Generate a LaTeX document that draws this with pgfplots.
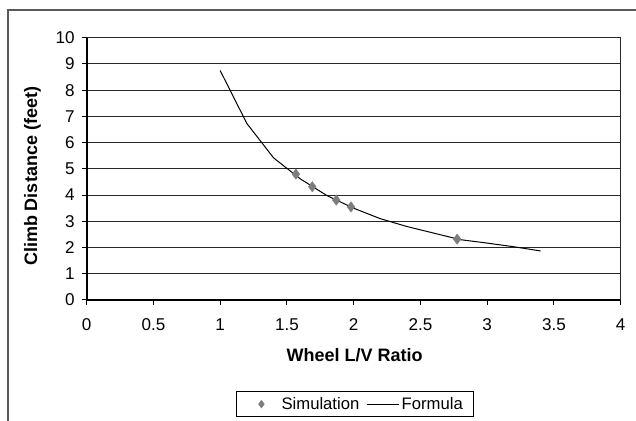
\documentclass[border=0pt]{standalone}
\usepackage{fontspec}
\setmainfont{Liberation Sans}
\usepackage{pgfplots}
\pgfplotsset{compat=1.18}

\definecolor{gridgray}{RGB}{40,40,40}
\definecolor{markgray}{RGB}{125,125,125}
\definecolor{framegray}{RGB}{90,90,90}

\pgfplotsset{
    simlegend/.style={legend image code/.code={%
        \draw[##1, mark size=2.7pt] plot coordinates {(0.45cm,0cm)};
        \path (0cm,0cm) (0.9cm,0cm);}},
    linelegend/.style={legend image code/.code={%
        \draw[##1] (0pt,0pt) -- (24pt,0pt);}},
}

\begin{document}
\begin{tikzpicture}
% page = 636 x 421 px, 1 px = 0.75pt
\useasboundingbox (0,0) rectangle (477pt,315.75pt);
\draw[framegray, line width=1pt] (6pt,0) -- (6pt,308.25pt) -- (477pt,308.25pt);

\begin{axis}[
    at={(65pt,90.75pt)}, anchor=south west,
    scale only axis,
    width=400.5pt, height=196.7pt,
    xmin=0, xmax=4, ymin=0, ymax=10,
    xtick={0,0.5,1,1.5,2,2.5,3,3.5,4},
    ytick={0,1,2,3,4,5,6,7,8,9,10},
    axis lines=left,
    axis line style={-, black, line width=1.5pt},
    tick align=outside,
    major tick length=3.75pt,
    tick style={black, line width=0.75pt},
    ymajorgrids,
    grid style={gridgray, line width=0.75pt},
    /pgf/number format/assume math mode=true,
    ticklabel style={font=\fontsize{12.8}{14}\selectfont},
    xticklabel style={yshift=-6.5pt},
    yticklabel style={xshift=-1.75pt},
    xlabel={Wheel L/V Ratio},
    ylabel={Climb Distance (feet)},
    label style={font=\bfseries\fontsize{13.5}{15}\selectfont},
    xlabel style={at={(axis description cs:0.502,-0.235)}, anchor=base},
    ylabel style={at={(axis description cs:-0.093,0.471)}, anchor=base},
    legend columns=2,
    legend style={at={(axis description cs:0.502,-0.397)}, anchor=center,
        draw=black, line width=0.6pt, font=\fontsize{12.5}{14}\selectfont,
        inner xsep=6pt, inner ysep=2pt,
        /tikz/every even column/.append style={column sep=3pt}},
    legend cell align=left,
    clip=false,
]
\addplot[only marks, mark=diamond*, mark size=3.8pt, color=markgray, simlegend]
coordinates {(1.567,4.80) (1.69,4.32) (1.87,3.81) (1.98,3.55) (2.775,2.32)};
\addlegendentry{Simulation}
\addplot[black, line width=0.75pt, mark=none, linelegend]
coordinates {(1.0,8.75) (1.2,6.73) (1.4,5.42) (1.6,4.62) (1.8,3.98) (2.0,3.50)
(2.2,3.10) (2.4,2.80) (2.6,2.55) (2.8,2.30) (3.0,2.17) (3.2,2.03) (3.4,1.87)};
\addlegendentry{Formula}
\draw[gridgray, line width=0.75pt] (axis cs:4,0) -- (axis cs:4,10);
\end{axis}
\end{tikzpicture}
\end{document}
